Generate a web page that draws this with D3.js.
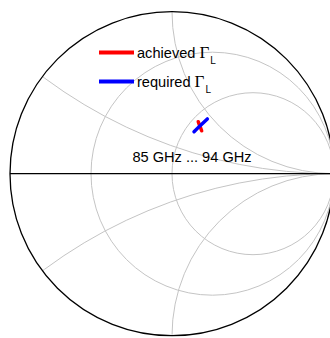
<!DOCTYPE html>
<meta charset="utf-8">
<title>Smith chart</title>
<style>
body { margin: 0; background: #fff; }
svg { display: block; }
text { font-family: "Liberation Sans", Arial, Helvetica, sans-serif; fill: #000; }
</style>
<body>
<script src="https://cdn.jsdelivr.net/npm/d3@7"></script>
<script>
'use strict';

// grid values of the smith chart
const rCircles = [1/3, 1];
const xArcs = [1/3, 1, -1/3, -1];

// reflection coefficient traces (real, imag), 85 GHz ... 94 GHz
const achievedRe = [0.162, 0.169, 0.176, 0.183];
const achievedIm = [0.321, 0.302, 0.284, 0.265];
const requiredRe = [0.136, 0.163, 0.190, 0.218];
const requiredIm = [0.259, 0.286, 0.312, 0.338];

const seriesNames = ["achieved", "required"];
const seriesColors = ["#ff0000", "#0000ff"];
const freqLabel = "85 GHz ... 94 GHz";

const width = 330, height = 338;
const cx = 172, cy = 173.7, R = 162;

const x = d3.scaleLinear().domain([-1, 1]).range([cx - R, cx + R]);
const y = d3.scaleLinear().domain([-1, 1]).range([cy + R, cy - R]);

const svg = d3.select("body").append("svg")
    .attr("width", width)
    .attr("height", height);

svg.append("clipPath").attr("id", "unit")
  .append("circle")
    .attr("cx", x(0)).attr("cy", y(0)).attr("r", x(1) - x(0));

const grid = svg.append("g")
    .attr("clip-path", "url(#unit)")
    .attr("fill", "none")
    .attr("stroke", "#c4c4c4")
    .attr("stroke-width", 1);

// constant resistance circles
grid.selectAll(".rc")
    .data(rCircles)
  .enter().append("circle")
    .attr("class", "rc")
    .attr("cx", (r) => x(r / (1 + r)))
    .attr("cy", y(0))
    .attr("r", (r) => x(1 / (1 + r)) - x(0));

// constant reactance arcs
grid.selectAll(".xa")
    .data(xArcs)
  .enter().append("circle")
    .attr("class", "xa")
    .attr("cx", x(1))
    .attr("cy", (v) => y(1 / v))
    .attr("r", (v) => x(Math.abs(1 / v)) - x(0));

// outer circle and real axis
svg.append("circle")
    .attr("cx", x(0)).attr("cy", y(0)).attr("r", x(1) - x(0))
    .attr("fill", "none")
    .attr("stroke", "#000")
    .attr("stroke-width", 1.3);

svg.append("line")
    .attr("x1", x(-1)).attr("x2", x(1))
    .attr("y1", y(0)).attr("y2", y(0))
    .attr("stroke", "#000")
    .attr("stroke-width", 1.3);

// traces
const line = d3.line().x((d) => x(d[0])).y((d) => y(d[1]));
const traces = [
  d3.zip(achievedRe, achievedIm),
  d3.zip(requiredRe, requiredIm)
];

svg.selectAll(".trace")
    .data(traces)
  .enter().append("path")
    .attr("class", "trace")
    .attr("d", line)
    .attr("fill", "none")
    .attr("stroke", (d, i) => seriesColors[i])
    .attr("stroke-width", 3.5)
    .attr("stroke-linecap", "round");

svg.append("text")
    .attr("x", 192).attr("y", 162)
    .attr("text-anchor", "middle")
    .attr("font-size", "14.6px")
    .text(freqLabel);

// legend
const legend = svg.selectAll(".legend")
    .data(seriesNames)
  .enter().append("g")
    .attr("class", "legend")
    .attr("transform", (d, i) => "translate(99," + (52.5 + i * 29) + ")");

legend.append("line")
    .attr("x1", 0).attr("x2", 35)
    .attr("stroke", (d, i) => seriesColors[i])
    .attr("stroke-width", 4);

const lt = legend.append("text")
    .attr("x", 38).attr("y", 5)
    .attr("font-size", "14.6px");
lt.append("tspan").text((d) => d + " ");
lt.append("tspan")
    .style("font-family", "'Liberation Serif', 'Times New Roman', serif")
    .attr("font-size", "17px")
    .text("\u0393");
lt.append("tspan")
    .attr("dx", 1)
    .attr("dy", 6)
    .attr("font-size", "10px")
    .text("L");
</script>
</body>
